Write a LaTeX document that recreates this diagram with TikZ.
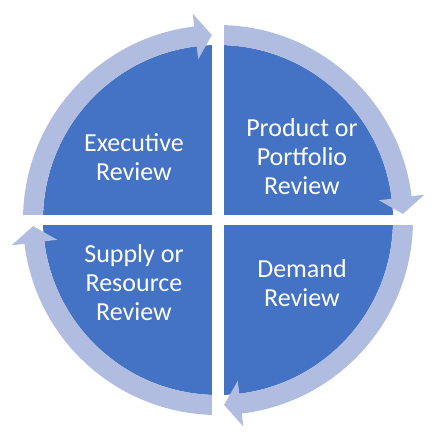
\documentclass[tikz,border=0pt]{standalone}
\usepackage{fontspec}
\setmainfont{Carlito}
\definecolor{sector}{HTML}{4472C4}
\definecolor{ring}{HTML}{B0BDE0}

\begin{document}
\begin{tikzpicture}[x=1pt,y=1pt]
\tikzstyle{every node}=[text=white,align=center,font=\fontsize{26}{29}\selectfont]
\useasboundingbox (-218,-214) rectangle (218,220);
% quarters and ring arrows
\fill[sector] (0,0) circle (175);
\foreach \a in {180,90,0,-90}
  \fill[ring] (\a:195) arc[start angle=\a, end angle=\a-83, radius=195]
    -- ({\a-83}:208) -- ({\a-88.1}:185) -- ({\a-83}:162) -- ({\a-83}:175)
    arc[start angle=\a-83, end angle=\a, radius=175] -- cycle;
% gaps
\fill[white] (-6,-230) rectangle (6,230);
\fill[white] (-230,-5) rectangle (230,5);
\node (exec) at (-84,63) {Executive\\Review};
\node (prod) at (84,63) {Product or\\Portfolio\\Review};
\node (dem) at (84,-63) {Demand\\Review};
\node (sup) at (-84,-63) {Supply or\\Resource\\Review};
\end{tikzpicture}
\end{document}
